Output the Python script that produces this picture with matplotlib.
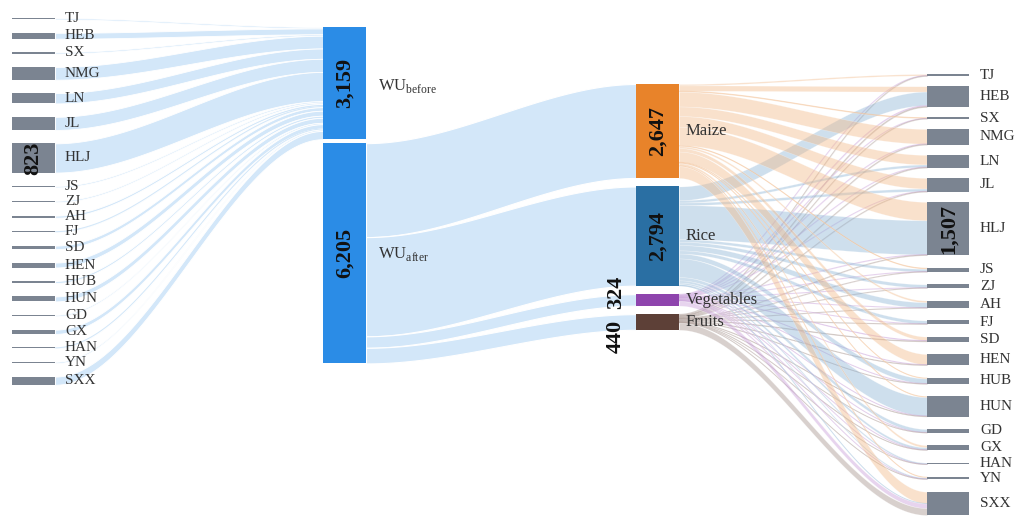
import numpy as np
import matplotlib.pyplot as plt
from matplotlib.colors import to_rgba

plt.rcParams["font.family"] = ["Liberation Serif", "DejaVu Serif"]
plt.rcParams["mathtext.fontset"] = "custom"
plt.rcParams["mathtext.rm"] = "Liberation Serif"

provinces = ["TJ", "HEB", "SX", "NMG", "LN", "JL", "HLJ", "JS", "ZJ", "AH",
             "FJ", "SD", "HEN", "HUB", "HUN", "GD", "GX", "HAN", "YN", "SXX"]

# water use before, by province (flows into WU_before)
wu_before = [40, 166, 40, 360, 290, 370, 823, 40, 40, 60,
             30, 100, 140, 60, 140, 40, 120, 30, 40, 230]

# water use after, by crop and province
crops = ["Maize", "Rice", "Vegetables", "Fruits"]
maize = [40, 150, 30, 415, 270, 301, 520, 30, 0, 50,
         0, 100, 291, 20, 20, 0, 60, 0, 20, 330]
rice = [0, 385, 0, 0, 68, 73, 960, 74, 91, 150,
        91, 0, 0, 137, 525, 91, 63, 45, 37, 4]
vegetables = [10, 25, 8, 15, 10, 8, 12, 8, 8, 5,
              6, 20, 14, 10, 10, 8, 8, 4, 6, 129]
fruits = [14, 30, 10, 20, 18, 12, 15, 8, 8, 8,
          10, 22, 15, 11, 15, 8, 11, 4, 8, 193]

crop_flows = np.array([maize, rice, vegetables, fruits])
crop_tot = crop_flows.sum(axis=1)
prov_after = crop_flows.sum(axis=0)
wu_tot = [sum(wu_before), int(crop_tot.sum())]

# layout / style
K = 0.0355  # px per unit
X_LEFT, X_WU, X_CROP, X_RIGHT = 12, 323, 636, 927
BAR_W = 43
C_LINK = "#d3e7f9"
C_WU = "#2b8ce6"
C_PROV = "#7b8491"
CROP_COL = ["#e8832a", "#2a6fa3", "#8e44ad", "#5d4037"]
CROP_LINK = ["#f3b987", "#8cb4d6", "#c69ad8", "#a39089"]
TXT = "#333333"


def stack(values, top, gaps):
    out = []
    y = top
    for i, v in enumerate(values):
        h = v * K
        out.append((y, y + h))
        if i < len(gaps):
            y += h + gaps[i]
    return out


def ribbon(ax, x0, x1, a, b, fc, ec="none", lw=0.0, z=1):
    x = np.linspace(x0, x1, 120)
    t = (x - x0) / (x1 - x0)
    s = 3 * t ** 2 - 2 * t ** 3
    top = a[0] + (b[0] - a[0]) * s
    bot = a[1] + (b[1] - a[1]) * s
    ax.fill_between(x, top, bot, facecolor=fc, edgecolor=ec, linewidth=lw, zorder=z)
    if (a[1] - a[0]) < 1.2:
        ax.plot(x, (top + bot) / 2, color=fc, lw=0.7, zorder=z)


fig = plt.figure(figsize=(10.25, 5.16), dpi=100)
ax = fig.add_axes([0, 0, 1, 1])
ax.set_xlim(0, 1025)
ax.set_ylim(516, 0)
ax.axis("off")

n = len(provinces)
left_pos = stack(wu_before, 18, [13.4] * (n - 1))
wu_pos = stack(wu_tot, 27, [4])
crop_pos = stack(crop_tot, 84, [8.5] * 3)
right_h = sum(prov_after) * K
upper = 10.0
rest = (515 - 74 - right_h - 6 * upper) / (n - 7)
right_pos = stack(prov_after, 74, [upper] * 6 + [rest] * (n - 7))

# provinces -> WU_before
y_in = wu_pos[0][0]
for i, v in enumerate(wu_before):
    h = v * K
    ribbon(ax, X_LEFT + BAR_W, X_WU, left_pos[i], (y_in, y_in + h), C_LINK,
           ec="white", lw=0.6)
    y_in += h

# WU_after -> crops
y_out = wu_pos[1][0]
for j, v in enumerate(crop_tot):
    h = v * K
    ribbon(ax, X_WU + BAR_W, X_CROP, (y_out, y_out + h), crop_pos[j], C_LINK,
           ec="white", lw=0.8)
    y_out += h

# crops -> provinces
out_off = [p[0] for p in crop_pos]
in_off = [p[0] for p in right_pos]
links = []
for i in range(n):
    for j in range(len(crops)):
        v = crop_flows[j, i]
        if v <= 0:
            continue
        h = v * K
        a = (out_off[j], out_off[j] + h)
        b = (in_off[i], in_off[i] + h)
        out_off[j] += h
        in_off[i] += h
        links.append((j, a, b))
for j, a, b in links:
    ribbon(ax, X_CROP + BAR_W, X_RIGHT, a, b, to_rgba(CROP_LINK[j], 0.42),
           ec=(1, 1, 1, 0.35), lw=0.4)

# bars
for (y0, y1) in left_pos:
    ax.add_patch(plt.Rectangle((X_LEFT, y0), BAR_W, max(y1 - y0, 1.2),
                               color=C_PROV, lw=0, zorder=3))
for (y0, y1) in wu_pos:
    ax.add_patch(plt.Rectangle((X_WU, y0), BAR_W, y1 - y0, color=C_WU, lw=0, zorder=3))
for j, (y0, y1) in enumerate(crop_pos):
    ax.add_patch(plt.Rectangle((X_CROP, y0), BAR_W, y1 - y0, color=CROP_COL[j],
                               lw=0, zorder=3))
for (y0, y1) in right_pos:
    ax.add_patch(plt.Rectangle((X_RIGHT, y0), BAR_W - 1, max(y1 - y0, 1.2),
                               color=C_PROV, lw=0, zorder=3))

# labels
for i, name in enumerate(provinces):
    yc = sum(left_pos[i]) / 2
    ax.text(X_LEFT + BAR_W + 10, yc, name, fontsize=11, color=TXT,
            va="center", ha="left", zorder=4)
    yc = sum(right_pos[i]) / 2
    ax.text(X_RIGHT + BAR_W + 10, yc, name, fontsize=11, color=TXT,
            va="center", ha="left", zorder=4)

num_kw = dict(fontsize=16, fontweight="bold", rotation=90, color="#111111",
              ha="center", va="center", zorder=5)
hlj = provinces.index("HLJ")
ax.text(X_LEFT + BAR_W / 2, sum(left_pos[hlj]) / 2, f"{wu_before[hlj]:,}", **num_kw)
ax.text(X_RIGHT + BAR_W / 2, sum(right_pos[hlj]) / 2, f"{prov_after[hlj]:,}", **num_kw)
for (y0, y1), v in zip(wu_pos, wu_tot):
    ax.text(X_WU + BAR_W / 2, (y0 + y1) / 2, f"{v:,}", **num_kw)
for j in range(2):
    ax.text(X_CROP + BAR_W / 2, sum(crop_pos[j]) / 2, f"{crop_tot[j]:,}", **num_kw)
ax.text(X_CROP - 20, sum(crop_pos[2]) / 2 - 8, f"{crop_tot[2]:,}", **num_kw)
ax.text(X_CROP - 20, sum(crop_pos[3]) / 2 + 14, f"{crop_tot[3]:,}", **num_kw)

ax.text(X_WU + BAR_W + 12, sum(wu_pos[0]) / 2 + 3, r"WU$_{\mathrm{before}}$",
        fontsize=12, color=TXT, va="center", ha="left", zorder=4)
ax.text(X_WU + BAR_W + 12, sum(wu_pos[1]) / 2 + 1, r"WU$_{\mathrm{after}}$",
        fontsize=12, color=TXT, va="center", ha="left", zorder=4)
for j, name in enumerate(crops):
    ax.text(X_CROP + BAR_W + 7, sum(crop_pos[j]) / 2, name, fontsize=12,
            color=TXT, va="center", ha="left", zorder=4)

fig.savefig("out.png", dpi=100)
